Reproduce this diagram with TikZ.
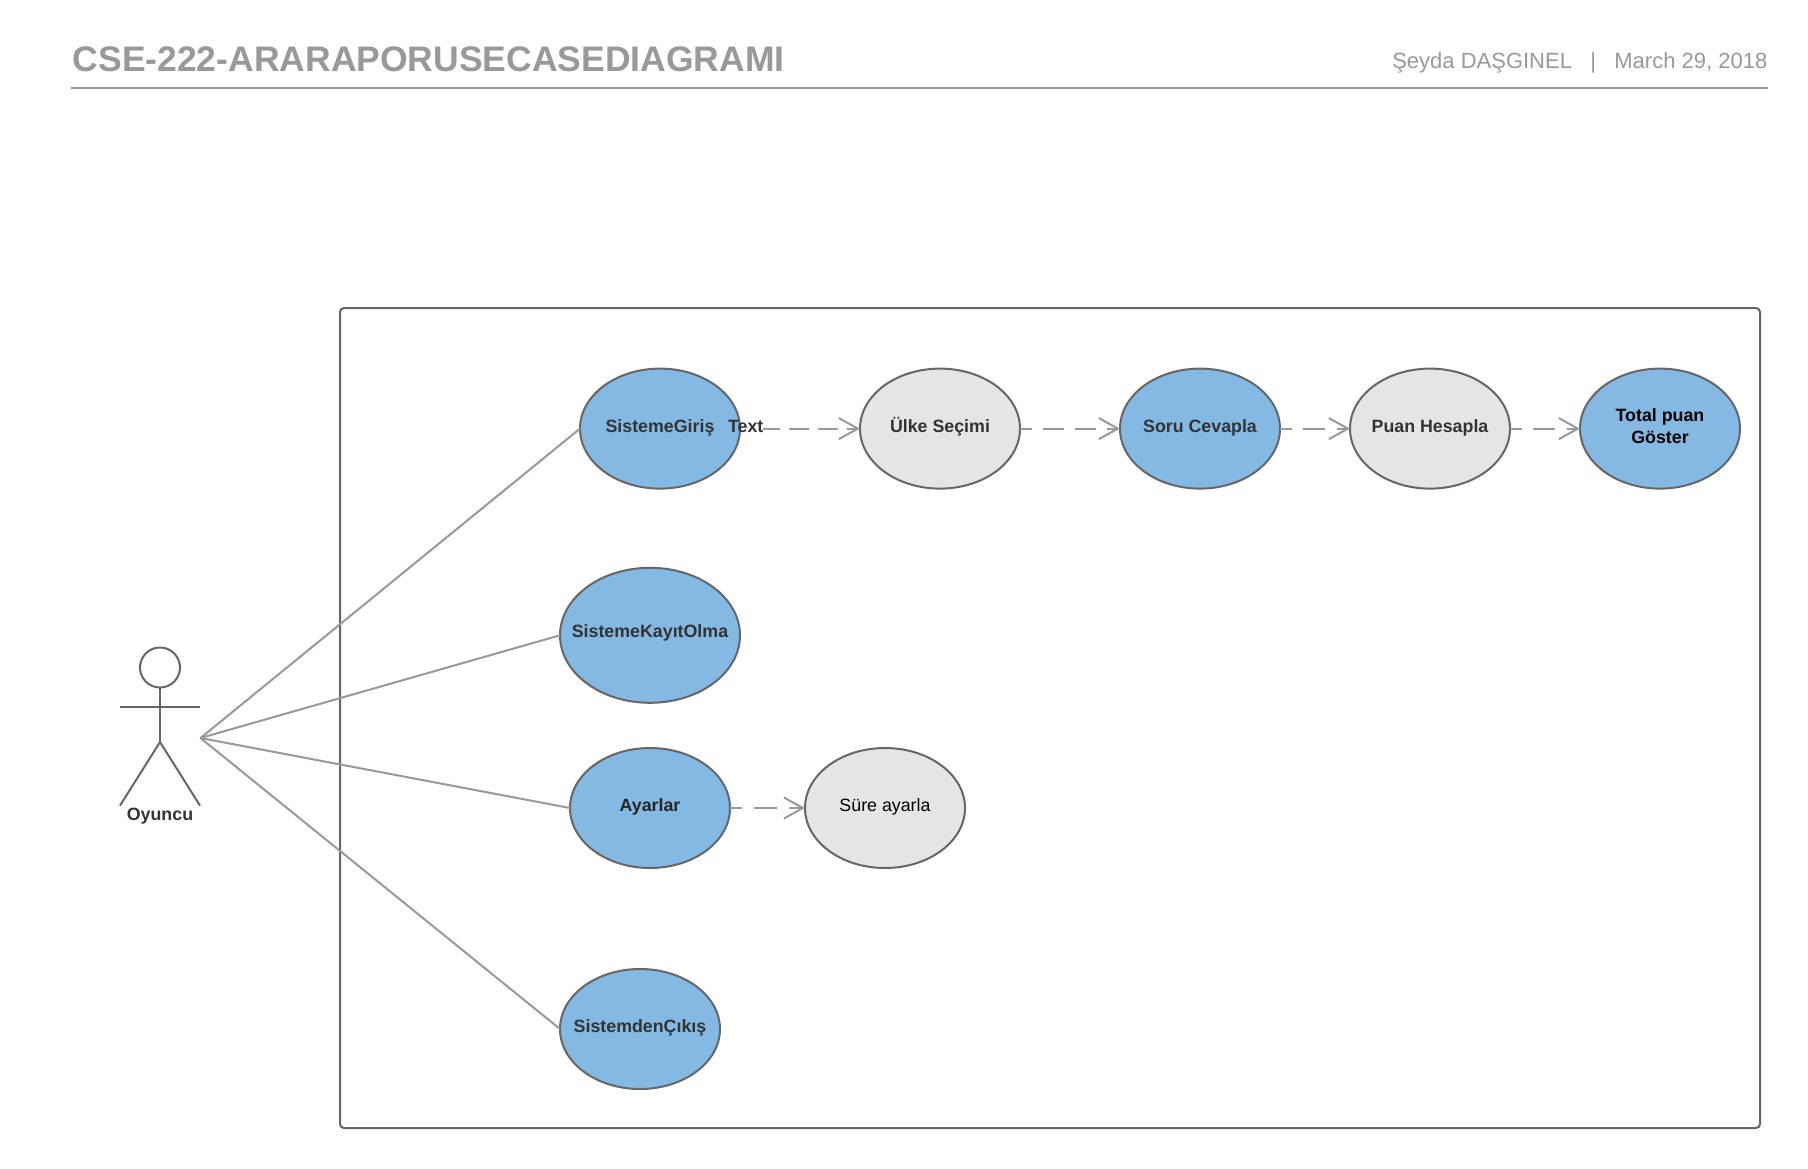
\documentclass[tikz,border=0pt]{standalone}
\usepackage{fontspec}
\setmainfont{Liberation Sans}
\usetikzlibrary{shapes.geometric,arrows.meta}
\definecolor{edgegray}{HTML}{666666}
\definecolor{linegray}{HTML}{999999}
\definecolor{titlegray}{HTML}{999999}
\definecolor{ucblue}{HTML}{83B9E3}
\definecolor{ucgray}{HTML}{E5E5E5}
\definecolor{inkgray}{HTML}{333333}
\newcommand{\uctext}[2][3.4pt]{\smash{\makebox[0pt]{\raisebox{-#1}{#2}}}}
\tikzset{
  usecase/.style={ellipse,draw=edgegray,line width=2pt,inner sep=0pt,outer sep=0pt,
    minimum width=160pt,minimum height=120pt,text=inkgray,
    font=\fontsize{17.8}{21.6}\selectfont\bfseries},
  ucb/.style={usecase,fill=ucblue},
  ucg/.style={usecase,fill=ucgray},
  assoc/.style={draw=linegray,line width=2pt},
  dep/.style={draw=linegray,line width=2pt,
    -{Straight Barb[length=19pt,width=21pt,line width=2pt]}},
  stick/.style={draw=edgegray,line width=2pt},
  lbl/.style={inner sep=0pt,outer sep=0pt,text=inkgray,
    font=\fontsize{17.8}{21.6}\selectfont\bfseries},
}
\begin{document}
\begin{tikzpicture}[x=1pt,y=-1pt]
\useasboundingbox[fill=white] (0,0) rectangle (1808,1168);

% header
\node[anchor=base west,inner sep=0pt,text=titlegray,font=\fontsize{35.5}{40}\selectfont\bfseries] (title) at (72.5,71.7) {CSE-222-ARARAPORUSECASEDIAGRAMI};
\node[anchor=base east,inner sep=0pt,text=titlegray,font=\fontsize{22}{26}\selectfont\addfontfeature{Kerning=Off}] (meta) at (1767.5,68.6) {Şeyda DAŞGINEL\ \ \ |\ \ \ March 29, 2018};
\coordinate (ruleL) at (71,88);
\coordinate (ruleR) at (1767.5,88);
\draw[draw=linegray,line width=2pt] (ruleL) -- (ruleR);

% system boundary
\node[draw=edgegray,line width=2pt,rounded corners=4pt,inner sep=0pt,outer sep=0pt,anchor=north west,minimum width=1420pt,minimum height=820pt] (system) at (340,308) {};

% use cases
\node[ucb] (giris) at (660,428.6) {\uctext{SistemeGiriş}};
\node[ucg] (ulke) at (940,428.6) {\uctext{Ülke Seçimi}};
\node[ucb] (soru) at (1200,428.6) {\uctext{Soru Cevapla}};
\node[ucg] (puan) at (1430,428.6) {\uctext{Puan Hesapla}};
\node[ucb,text=black] (total) at (1660,428.6) {\smash{\makebox[0pt]{\raisebox{7.2pt}{\parbox[t]{120pt}{\centering Total puan\\Göster}}}}};
\node[ucb,minimum width=180pt,minimum height=135pt] (kayit) at (650,635.3) {\uctext[1.8pt]{SistemeKayıtOlma}};
\node[ucb,text=black!85] (ayarlar) at (650,808) {\uctext[3.4pt]{Ayarlar}};
\node[ucg,text=black,font=\fontsize{17.8}{21.6}\selectfont] (sure) at (885,808) {\uctext[3.4pt]{Süre ayarla}};
\node[ucb] (cikis) at (640,1029) {\uctext{SistemdenÇıkış}};

% label over first dependency
\node[lbl,anchor=base] (txt) at (745.7,432) {Text};

% actor
\node[draw=edgegray,line width=2pt,circle,minimum size=40pt,inner sep=0pt,outer sep=0pt] (head) at (160,667.5) {};
\coordinate (armL) at (120,707.4);
\coordinate (armR) at (200,707.4);
\coordinate (hip) at (160,742);
\coordinate (footL) at (120,805.6);
\coordinate (footR) at (200,805.6);
\draw[stick] (armL) -- (armR);
\draw[stick] (head.south) -- (hip);
\draw[stick] (footL) -- (hip) -- (footR);
\node[lbl,anchor=base] (oyuncu) at (160,820) {Oyuncu};
\coordinate (actor) at (200.5,738);

% associations
\draw[assoc] (actor) -- (giris.west);
\draw[assoc] (actor) -- (kayit.west);
\draw[assoc] (actor) -- (ayarlar.west);
\draw[assoc] (actor) -- (cikis.west);

% dependencies
\draw[dep,dash pattern=on 0pt off 23pt on 17pt off 9pt on 20pt off 9pt on 20pt off 9pt on 20pt off 9pt] (giris.east) -- (ulke.west);
\draw[dep,dash pattern=on 21pt off 11pt,dash phase=9pt] (ulke.east) -- (soru.west);
\draw[dep,dash pattern=on 22pt off 11.5pt,dash phase=10.5pt] (soru.east) -- (puan.west);
\draw[dep,dash pattern=on 22pt off 11.5pt,dash phase=10.5pt] (puan.east) -- (total.west);
\draw[dep,dash pattern=on 23pt off 12pt,dash phase=11pt] (ayarlar.east) -- (sure.west);
\end{tikzpicture}
\end{document}
